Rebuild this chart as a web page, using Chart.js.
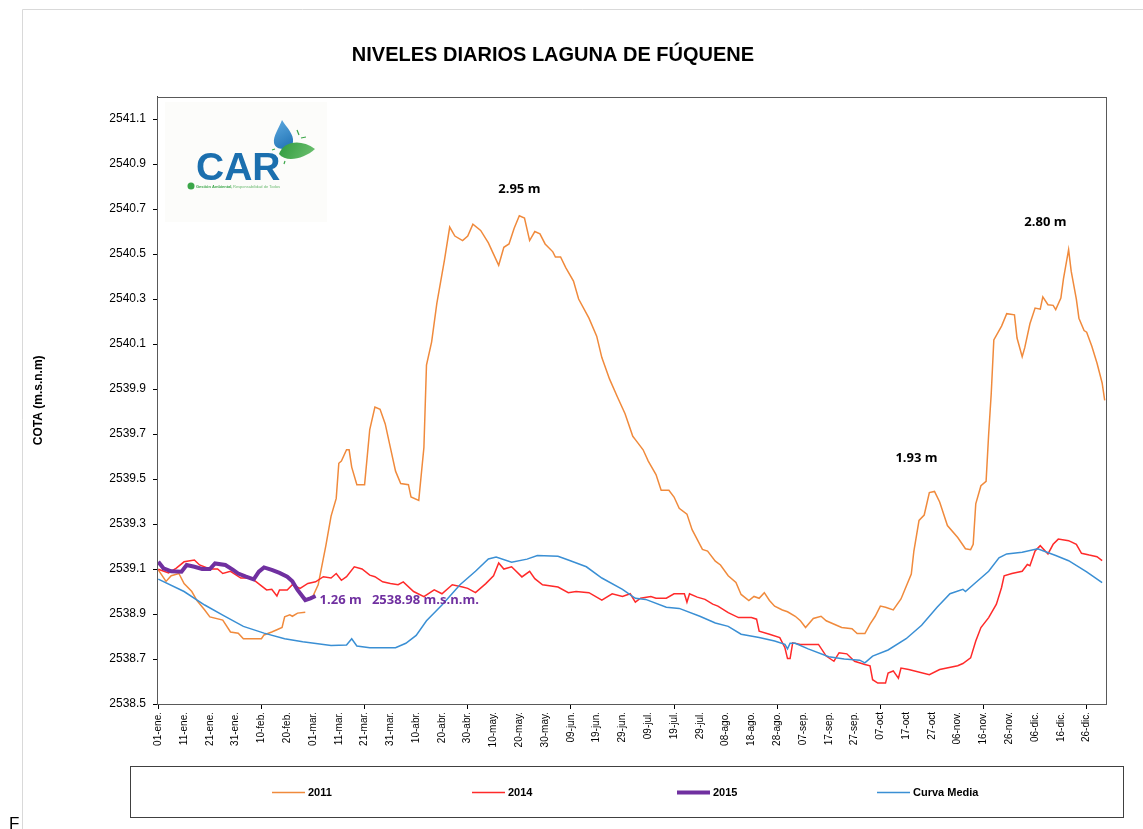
<!DOCTYPE html>
<html>
<head>
<meta charset="utf-8">
<script src="https://cdn.jsdelivr.net/npm/chart.js@4.4.1/dist/chart.umd.min.js"></script>
<style>
html,body{margin:0;padding:0;background:#fff;}
#wrap{position:relative;width:1143px;height:829px;overflow:hidden;}
</style>
</head>
<body>
<div id="wrap"><canvas id="c" width="1143" height="829"></canvas></div>
<script>
// ---------- DATA ----------
const yTicks = [2538.5,2538.7,2538.9,2539.1,2539.3,2539.5,2539.7,2539.9,2540.1,2540.3,2540.5,2540.7,2540.9,2541.1];
const diasEtiqueta = [0,10,20,30,40,50,60,70,80,90,100,110,120,130,140,150,160,170,180,190,200,210,220,230,240,250,260,270,280,290,300,310,320,330,340,350,360];
const etiquetasX = ["01-ene.","11-ene.","21-ene.","31-ene.","10-feb.","20-feb.","01-mar.","11-mar.","21-mar.","31-mar.","10-abr.","20-abr.","30-abr.","10-may.","20-may.","30-may.","09-jun.","19-jun.","29-jun.","09-jul.","19-jul.","29-jul.","08-ago.","18-ago.","28-ago.","07-sep.","17-sep.","27-sep.","07-oct","17-oct","27-oct","06-nov.","16-nov.","26-nov.","06-dic.","16-dic.","26-dic."];

const dias2011 = [0,3,5,8,10,13,15,18,20,25,28,31,33,40,41,44,46,48,49,51,52,54,57,58,60,62,65,67,69,70,71,73,74,75,77,80,82,84,86,88,90,92,94,97,98,101,103,104,106,108,111,113,115,118,120,122,125,128,130,132,134,136,138,140,142,144,146,148,150,153,154,156,158,161,163,167,170,172,175,178,181,184,185,188,190,193,195,198,200,202,205,207,211,213,216,218,221,224,226,229,231,233,235,237,239,242,244,247,249,251,254,257,259,263,265,269,271,274,276,278,280,282,285,288,292,293,295,297,299,301,303,306,310,313,315,316,317,319,321,322,323,324,327,329,332,333,335,336,338,340,342,343,345,347,348,350,351,353,354,356,357,359,360,362,364,366,367];
const cota2011 = [2539.096,2539.045,2539.07,2539.08,2539.035,2539.0,2538.96,2538.918,2538.887,2538.873,2538.82,2538.815,2538.79,2538.79,2538.807,2538.82,2538.83,2538.84,2538.888,2538.896,2538.89,2538.904,2538.908,null,2538.98,2539.03,2539.205,2539.335,2539.414,2539.57,2539.58,2539.63,2539.63,2539.553,2539.475,2539.475,2539.72,2539.82,2539.81,2539.745,2539.64,2539.535,2539.48,2539.475,2539.42,2539.405,2539.64,2540.007,2540.11,2540.28,2540.475,2540.62,2540.58,2540.56,2540.58,2540.633,2540.605,2540.55,2540.5,2540.45,2540.53,2540.545,2540.615,2540.67,2540.66,2540.56,2540.6,2540.59,2540.545,2540.51,2540.487,2540.487,2540.44,2540.38,2540.3,2540.215,2540.135,2540.04,2539.944,2539.866,2539.79,2539.69,2539.675,2539.63,2539.58,2539.52,2539.45,2539.45,2539.42,2539.37,2539.344,2539.275,2539.187,2539.18,2539.135,2539.118,2539.07,2539.04,2538.987,2538.96,2538.978,2538.97,2538.995,2538.96,2538.935,2538.918,2538.91,2538.89,2538.87,2538.84,2538.88,2538.89,2538.87,2538.85,2538.84,2538.835,2538.813,2538.813,2538.855,2538.89,2538.935,2538.93,2538.918,2538.967,2539.078,2539.18,2539.316,2539.34,2539.44,2539.445,2539.398,2539.293,2539.24,2539.19,2539.186,2539.21,2539.39,2539.47,2539.49,2539.70,2539.88,2540.118,2540.18,2540.235,2540.23,2540.127,2540.044,2540.084,2540.19,2540.26,2540.255,2540.31,2540.275,2540.272,2540.253,2540.304,2540.39,2540.52,2540.424,2540.30,2540.215,2540.16,2540.153,2540.09,2540.016,2539.927,2539.85];

const dias2014 = [0,4,7,10,14,16,20,23,25,28,32,36,38,42,44,46,47,50,52,55,58,61,64,67,69,71,73,76,79,82,84,87,90,93,95,99,103,107,110,114,118,120,123,127,130,132,134,137,141,144,146,149,155,159,162,167,172,176,180,183,185,187,191,193,197,200,204,205,206,209,212,215,217,221,225,230,232,233,237,241,243,244,245,246,249,256,259,262,264,267,270,274,276,277,279,282,283,285,287,288,291,299,303,310,312,315,317,319,322,325,327,328,331,335,337,338,340,342,345,347,349,353,356,358,361,364,366];
const cota2014 = [2539.099,2539.083,2539.104,2539.132,2539.14,2539.118,2539.1,2539.1,2539.08,2539.09,2539.06,2539.06,2539.043,2539.007,2539.01,2538.98,2539.007,2539.007,2539.03,2539.014,2539.036,2539.043,2539.066,2539.06,2539.08,2539.05,2539.066,2539.11,2539.1,2539.073,2539.066,2539.043,2539.036,2539.03,2539.043,2539.0,2538.977,2539.007,2538.99,2539.03,2539.02,2539.014,2538.995,2539.035,2539.07,2539.127,2539.1,2539.11,2539.065,2539.09,2539.057,2539.03,2539.02,2538.995,2539.0,2538.995,2538.962,2538.99,2538.978,2538.99,2538.953,2538.97,2538.978,2538.97,2538.97,2538.99,2538.99,2538.953,2538.99,2538.975,2538.965,2538.944,2538.935,2538.906,2538.884,2538.884,2538.877,2538.824,2538.81,2538.795,2538.75,2538.702,2538.702,2538.772,2538.765,2538.765,2538.713,2538.69,2538.728,2538.723,2538.69,2538.676,2538.67,2538.608,2538.593,2538.593,2538.638,2538.647,2538.615,2538.66,2538.653,2538.63,2538.653,2538.67,2538.68,2538.705,2538.78,2538.84,2538.884,2538.944,2539.018,2539.07,2539.08,2539.09,2539.12,2539.115,2539.18,2539.204,2539.167,2539.21,2539.233,2539.226,2539.21,2539.17,2539.162,2539.155,2539.137];

const dias2015 = [0,2,5,9,11,14,17,20,22,26,29,31,34,37,39,41,44,47,50,52,54,57,59,61];
const cota2015 = [2539.132,2539.103,2539.09,2539.088,2539.118,2539.11,2539.1,2539.1,2539.125,2539.118,2539.096,2539.08,2539.066,2539.054,2539.088,2539.107,2539.096,2539.083,2539.066,2539.045,2539.007,2538.962,2538.97,2538.98];

const diasMedia = [0,10,18,25,33,41,49,56,67,73,75,77,82,92,96,100,104,110,117,123,128,131,137,143,147,155,159,166,172,180,185,189,197,202,210,216,221,226,233,239,243,244,245,247,252,260,266,272,274,277,283,290,296,302,307,312,313,317,322,326,329,335,341,348,353,360,366];
const cotaMedia = [2539.055,2539.0,2538.94,2538.895,2538.845,2538.815,2538.79,2538.777,2538.76,2538.762,2538.79,2538.758,2538.75,2538.75,2538.77,2538.805,2538.87,2538.94,2539.03,2539.09,2539.145,2539.153,2539.13,2539.144,2539.16,2539.157,2539.14,2539.11,2539.06,2539.01,2538.97,2538.965,2538.93,2538.925,2538.89,2538.86,2538.845,2538.81,2538.796,2538.78,2538.765,2538.745,2538.77,2538.77,2538.745,2538.71,2538.70,2538.695,2538.683,2538.713,2538.74,2538.79,2538.85,2538.93,2538.99,2539.01,2539.0,2539.04,2539.09,2539.15,2539.167,2539.175,2539.19,2539.16,2539.137,2539.087,2539.04];

const anotTextos = ["2.95 m","2.80 m","1.93 m"];
const anotDias = [140,344,294];
const anotCotas = [2540.79,2540.64,2539.59];
const etiqueta2015 = "1.26 m   2538.98 m.s.n.m.";

// ---------- CHART ----------
const FAM = '"Liberation Sans", Arial, sans-serif';
const pts = (d, v) => d.map((x, i) => ({x: x, y: v[i]}));

const decor = {
  id: 'decor',
  beforeDraw(chart) {
    const ctx = chart.ctx;
    ctx.save();
    ctx.fillStyle = '#fff';
    ctx.fillRect(0, 0, chart.width, chart.height);
    // outer frame
    ctx.strokeStyle = '#d9d9d9';
    ctx.lineWidth = 1;
    ctx.beginPath();
    ctx.moveTo(22.5, 829); ctx.lineTo(22.5, 9.5); ctx.lineTo(1143, 9.5);
    ctx.stroke();
    // logo
    ctx.fillStyle = '#fcfcfa';
    ctx.fillRect(165, 102, 162, 120);
    ctx.fillStyle = '#1b6fae';
    ctx.font = 'bold 39px ' + FAM;
    ctx.textBaseline = 'alphabetic';
    ctx.textAlign = 'left';
    ctx.fillText('CAR', 196, 180);
    ctx.fillStyle = '#3aa648';
    ctx.beginPath(); ctx.arc(191, 186, 3.5, 0, 2 * Math.PI); ctx.fill();
    ctx.font = 'bold 4px ' + FAM;
    ctx.fillText('Gestión Ambiental,', 196, 187.5);
    ctx.fillStyle = '#6dbb72';
    ctx.font = '4px ' + FAM;
    ctx.fillText('Responsabilidad de Todos', 233, 187.5);
    // drop
    const g = ctx.createLinearGradient(275, 122, 292, 150);
    g.addColorStop(0, '#5aa7de'); g.addColorStop(1, '#1d6fb2');
    ctx.fillStyle = g;
    ctx.beginPath();
    ctx.moveTo(282, 120);
    ctx.bezierCurveTo(287, 128, 294, 134, 293, 142);
    ctx.bezierCurveTo(292, 150, 276, 152, 274, 143);
    ctx.bezierCurveTo(273, 136, 279, 128, 282, 120);
    ctx.fill();
    // leaf
    const g2 = ctx.createLinearGradient(280, 140, 314, 158);
    g2.addColorStop(0, '#2f9a3d'); g2.addColorStop(1, '#6cc06f');
    ctx.fillStyle = g2;
    ctx.beginPath();
    ctx.moveTo(279, 154);
    ctx.bezierCurveTo(283, 142, 300, 138, 315, 149);
    ctx.bezierCurveTo(304, 159, 286, 163, 279, 154);
    ctx.fill();
    ctx.strokeStyle = '#3aa648';
    ctx.lineWidth = 1.2;
    ctx.beginPath();
    ctx.moveTo(297, 130); ctx.lineTo(299, 135);
    ctx.moveTo(301, 138); ctx.lineTo(306, 137);
    ctx.moveTo(272, 150); ctx.lineTo(275, 149);
    ctx.moveTo(285, 161); ctx.lineTo(284, 164);
    ctx.stroke();
    ctx.restore();
  },
  afterDatasetsDraw(chart) {
    const ctx = chart.ctx, a = chart.chartArea;
    const xs = chart.scales.x, ys = chart.scales.y;
    ctx.save();
    // plot frame
    ctx.strokeStyle = '#595959';
    ctx.lineWidth = 1;
    ctx.strokeRect(Math.round(a.left) + 0.5, Math.round(a.top) + 0.5, Math.round(a.right - a.left), Math.round(a.bottom - a.top));
    // annotations
    ctx.font = 'bold 13px "Open Sans", ' + FAM;
    ctx.fillStyle = '#000';
    ctx.textAlign = 'center';
    ctx.textBaseline = 'middle';
    anotTextos.forEach((t, i) => ctx.fillText(t, xs.getPixelForValue(anotDias[i]), ys.getPixelForValue(anotCotas[i])));
    const n = dias2015.length - 1;
    ctx.fillStyle = '#7030a0';
    ctx.textAlign = 'left';
    ctx.fillText(etiqueta2015, xs.getPixelForValue(dias2015[n]) + 4, ys.getPixelForValue(cota2015[n]) + 4);
    ctx.restore();
  },
  afterDraw(chart) {
    const ctx = chart.ctx;
    ctx.save();
    // legend box
    ctx.strokeStyle = '#404040';
    ctx.lineWidth = 1;
    ctx.strokeRect(130.5, 766.5, 993, 51);
    const xsL = [272, 472, 677, 877];
    ctx.font = 'bold 11px ' + FAM;
    ctx.textBaseline = 'middle';
    ctx.textAlign = 'left';
    chart.data.datasets.forEach((ds, i) => {
      ctx.strokeStyle = ds.borderColor;
      ctx.lineWidth = ds.borderWidth;
      ctx.beginPath();
      ctx.moveTo(xsL[i], 792.5); ctx.lineTo(xsL[i] + 33, 792.5);
      ctx.stroke();
      ctx.fillStyle = '#000';
      ctx.fillText(ds.label, xsL[i] + 36, 792.5);
    });
    // page text below
    ctx.font = '17px ' + FAM;
    ctx.fillStyle = '#000';
    ctx.textBaseline = 'alphabetic';
    ctx.fillText('F', 9, 829);
    ctx.restore();
  }
};

new Chart(document.getElementById('c'), {
  type: 'line',
  data: {
    datasets: [
      {label: '2011', data: pts(dias2011, cota2011), borderColor: '#f08a3c', borderWidth: 1.5, pointRadius: 0, order: 3, spanGaps: false},
      {label: '2014', data: pts(dias2014, cota2014), borderColor: '#ff2a2a', borderWidth: 1.5, pointRadius: 0, order: 2},
      {label: '2015', data: pts(dias2015, cota2015), borderColor: '#7030a0', borderWidth: 4, pointRadius: 0, order: 0},
      {label: 'Curva Media', data: pts(diasMedia, cotaMedia), borderColor: '#3a8fd4', borderWidth: 1.5, pointRadius: 0, order: 1}
    ]
  },
  options: {
    responsive: false,
    animation: false,
    devicePixelRatio: 1,
    layout: {padding: {left: 0, right: 37, top: 0, bottom: 65}},
    plugins: {
      legend: {display: false},
      tooltip: {enabled: false},
      title: {
        display: true,
        text: 'NIVELES DIARIOS LAGUNA DE FÚQUENE',
        color: '#000',
        font: {family: FAM, size: 20, weight: 'bold', lineHeight: 1.2},
        padding: {top: 43, bottom: 29.6}
      }
    },
    scales: {
      x: {
        type: 'linear',
        min: -0.5,
        max: 367.5,
        afterBuildTicks: s => { s.ticks = diasEtiqueta.map(v => ({value: v})); },
        afterFit: s => { s.height = 60; },
        ticks: {
          autoSkip: false, maxRotation: 90, minRotation: 90,
          callback: (v, i) => etiquetasX[i],
          font: {family: FAM, size: 10}, color: '#000', padding: 3
        },
        grid: {
          drawOnChartArea: false, tickLength: 5,
          tickColor: c => (c.index % 4 === 0 ? '#000' : 'rgba(0,0,0,0)')
        },
        border: {color: '#000', width: 1}
      },
      y: {
        min: 2538.5,
        max: 2541.2,
        afterBuildTicks: s => { s.ticks = yTicks.map(v => ({value: v})); },
        afterFit: s => { s.width = 157; },
        ticks: {
          callback: v => v.toFixed(1),
          font: {family: FAM, size: 12}, color: '#000', padding: 7
        },
        grid: {drawOnChartArea: false, tickLength: 4, tickColor: '#000'},
        border: {color: '#404040', width: 1},
        title: {
          display: true, text: 'COTA (m.s.n.m)', color: '#000',
          font: {family: FAM, size: 12, weight: 'bold'},
          padding: {top: 31, bottom: 0}
        }
      }
    }
  },
  plugins: [decor]
});
</script>
</body>
</html>
